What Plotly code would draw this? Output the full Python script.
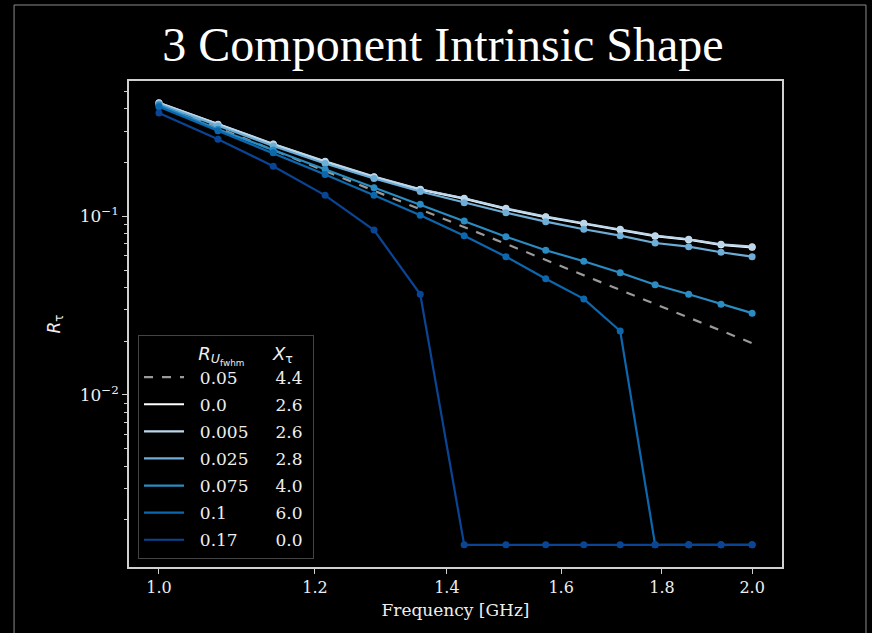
import plotly.graph_objects as go

# ---------------- data ----------------
freq = [1.0, 1.0714, 1.1429, 1.2143, 1.2857, 1.3571, 1.4286, 1.5,
        1.5714, 1.6429, 1.7143, 1.7857, 1.8571, 1.9286, 2.0]

r_u_labels = ["0.05", "0.0", "0.005", "0.025", "0.075", "0.1", "0.17"]
x_tau_labels = ["4.4", "2.6", "2.6", "2.8", "4.0", "6.0", "0.0"]

ref_005 = [0.425, 0.313, 0.235, 0.1795, 0.1392, 0.1094, 0.0871, 0.0702,
           0.0571, 0.0468, 0.0388, 0.0323, 0.0272, 0.0230, 0.0195]
r_0000 = [0.430, 0.326, 0.253, 0.202, 0.166, 0.141, 0.1255, 0.110,
          0.0990, 0.0908, 0.0840, 0.0774, 0.0740, 0.0692, 0.0670]
r_0005 = [0.432, 0.327, 0.254, 0.203, 0.1666, 0.1416, 0.1261, 0.1108,
          0.0995, 0.0914, 0.0846, 0.0779, 0.0744, 0.0697, 0.0676]
r_0025 = [0.425, 0.320, 0.2473, 0.1975, 0.1627, 0.1377, 0.1192, 0.1047,
          0.0933, 0.0846, 0.0779, 0.0709, 0.0676, 0.0629, 0.0594]
r_0075 = [0.4196, 0.3068, 0.235, 0.1832, 0.1445, 0.1168, 0.0941, 0.0769,
          0.0646, 0.0560, 0.0483, 0.0414, 0.0366, 0.0322, 0.0287]
r_0100 = [0.4106, 0.3013, 0.227, 0.1714, 0.1312, 0.1014, 0.0779, 0.0594,
          0.0447, 0.0345, 0.0228, 0.00145, 0.00145, 0.00145, 0.00145]
r_0170 = [0.378, 0.270, 0.1905, 0.131, 0.0838, 0.0366, 0.00145, 0.00145,
          0.00145, 0.00145, 0.00145, 0.00145, 0.00145, 0.00145, 0.00145]

x_ticks = [1.0, 1.2, 1.4, 1.6, 1.8, 2.0]
x_ticktext = ["1.0", "1.2", "1.4", "1.6", "1.8", "2.0"]
y_ticks = [0.01, 0.1]
y_ticktext = ["10<sup>\u22122</sup>", "10<sup>\u22121</sup>"]

# ---------------- style ----------------
series = [r_0000, r_0005, r_0025, r_0075, r_0100, r_0170]
colors = ["#ffffff", "#bcd7eb", "#6eaed6", "#2a8cc2", "#0d67ad", "#0a4595"]
serif = "DejaVu Serif"
FS = "\u2007"  # figure space (digit width)
NB = "\u00a0"


def legend_name(a, b):
    ndig = sum(c.isdigit() for c in a)
    return NB * 2 + a + FS * (4 - ndig) + FS * 2 + NB + b + NB


fig = go.Figure()

# reference power law (dashed)
fig.add_trace(go.Scatter(x=freq, y=ref_005, mode="lines",
                         line=dict(color="#9a9a9a", width=2.2, dash="dash"),
                         showlegend=False))
for ys, c in zip(series, colors):
    fig.add_trace(go.Scatter(x=freq, y=ys, mode="lines+markers",
                             line=dict(color=c, width=2.2),
                             marker=dict(color=c, size=7),
                             showlegend=False))

# legend entries (lines only)
leg_colors = ["#9a9a9a"] + colors
for i, (a, b, c) in enumerate(zip(r_u_labels, x_tau_labels, leg_colors)):
    fig.add_trace(go.Scatter(x=[None], y=[None], mode="lines",
                             line=dict(color=c, width=2.2,
                                       dash="dash" if i == 0 else "solid"),
                             name=legend_name(a, b), legendgroup=f"g{i}",
                             showlegend=True))

fig.update_layout(
    width=872, height=633,
    paper_bgcolor="black", plot_bgcolor="black",
    margin=dict(l=129, r=90, t=81, b=66),
    title=dict(text="3 Component Intrinsic Shape",
               font=dict(family="Liberation Serif", size=48, color="white"),
               x=0.508, xanchor="center", y=0.93, yanchor="middle"),
    font=dict(family=serif, color="#eeeeee", size=16),
    xaxis=dict(type="log", range=[-0.0152, 0.3162],
               tickvals=x_ticks, ticktext=x_ticktext,
               showgrid=False, zeroline=False,
               showline=True, linecolor="#d0d0d0", linewidth=1.5, mirror=True,
               ticks="outside", ticklen=5, tickcolor="#d0d0d0",
               tickfont=dict(family=serif, size=16, color="#eeeeee"),
               title=dict(text="Frequency [GHz]",
                          font=dict(family=serif, size=17, color="#eeeeee"),
                          standoff=8)),
    yaxis=dict(type="log", range=[-2.9625, -0.243],
               tickvals=y_ticks, ticktext=y_ticktext,
               showgrid=False, zeroline=False,
               showline=True, linecolor="#d0d0d0", linewidth=1.5, mirror=True,
               ticks="outside", ticklen=5, tickcolor="#d0d0d0",
               tickfont=dict(family=serif, size=17, color="#eeeeee"),
               minor=dict(ticks="outside", ticklen=3, tickcolor="#d0d0d0",
                          tickvals=[m * d for d in (0.001, 0.01, 0.1) for m in range(2, 10)],
                          showgrid=False),
               title=dict(text="<i>R</i><sub>\u03c4</sub>",
                          font=dict(family="DejaVu Sans", size=17, color="#eeeeee"),
                          standoff=15)),
    legend=dict(x=0.0138, y=0.477, xanchor="left", yanchor="top",
                bgcolor="rgba(0,0,0,0.85)", bordercolor="#444444", borderwidth=1,
                font=dict(family=serif, size=17, color="#eeeeee"),
                tracegroupgap=2, itemwidth=40,
                title=dict(text=FS * 5 + "<i>R</i><sub><i>U</i><sub>fwhm</sub></sub>" + NB * 5 + "<i>X</i><sub>\u03c4</sub>",
                           font=dict(family="DejaVu Sans", size=18, color="#eeeeee"))),
    shapes=[dict(type="rect", xref="paper", yref="paper",
                 x0=-0.176, x1=1.1286, y0=-0.2, y1=1.1564,
                 line=dict(color="#8a8a8a", width=1), fillcolor="rgba(0,0,0,0)",
                 layer="below")],
)

fig.write_html("out.html")
